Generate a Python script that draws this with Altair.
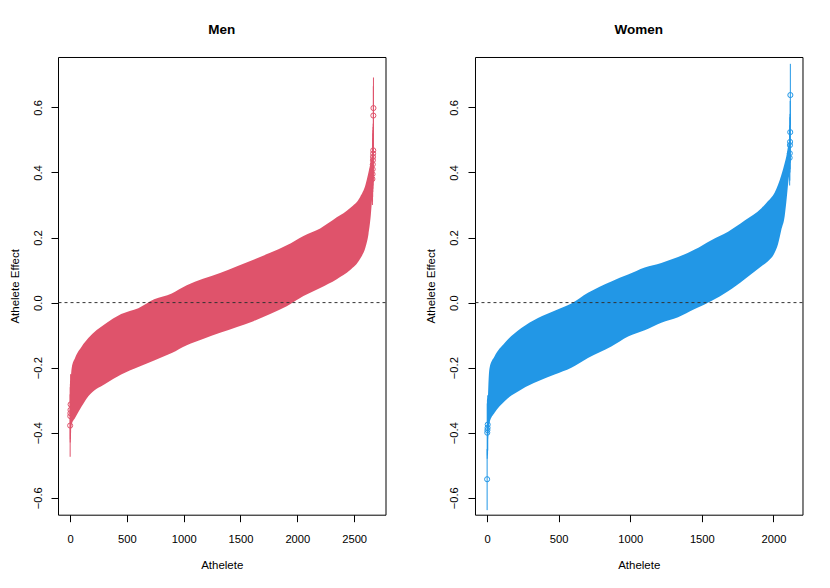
import altair as alt
import pandas as pd

FONT = "Liberation Sans"
MEN_COLOR = "#DF536B"
WOMEN_COLOR = "#2297E6"

# ---- Men: band of athlete intervals (rank, lower, upper)
men_rank = [6, 15, 44, 103, 161, 308, 450, 601, 740, 895, 1027, 1170, 1320, 1470,
            1614, 1761, 1907, 2054, 2201, 2347, 2465, 2553, 2600, 2626, 2647, 2660]
men_lo = [-0.40, -0.375, -0.355, -0.319, -0.288, -0.250, -0.221, -0.198, -0.178, -0.155,
          -0.131, -0.112, -0.093, -0.075, -0.057, -0.035, -0.011, 0.020, 0.045, 0.072,
          0.100, 0.135, 0.170, 0.210, 0.270, 0.330]
men_hi = [-0.24, -0.200, -0.170, -0.135, -0.109, -0.066, -0.035, -0.017, 0.010, 0.028,
          0.053, 0.073, 0.091, 0.112, 0.132, 0.153, 0.176, 0.205, 0.228, 0.262,
          0.291, 0.325, 0.362, 0.400, 0.435, 0.460]
# extreme athletes (visible individual estimates)
men_ext_rank = [1, 2, 3, 4, 5, 2661, 2662, 2663, 2664, 2665, 2666, 2667, 2668, 2669, 2670]
men_ext_est = [-0.378, -0.349, -0.340, -0.330, -0.313, 0.380, 0.395, 0.410, 0.425, 0.438,
               0.448, 0.458, 0.468, 0.575, 0.598]
men_ext_lo = [-0.474, -0.430, -0.420, -0.410, -0.400, 0.300, 0.310, 0.325, 0.340, 0.350,
              0.360, 0.370, 0.380, 0.480, 0.505]
men_ext_hi = [-0.282, -0.260, -0.250, -0.240, -0.220, 0.460, 0.475, 0.490, 0.505, 0.520,
              0.530, 0.540, 0.550, 0.665, 0.692]

# ---- Women
women_rank = [6, 12, 18, 53, 123, 240, 356, 472, 589, 705, 868, 985, 1101, 1217, 1334,
              1450, 1566, 1683, 1799, 1916, 1962, 2008, 2032, 2055, 2078, 2090, 2106, 2112]
women_lo = [-0.43, -0.39, -0.370, -0.339, -0.303, -0.267, -0.242, -0.221, -0.200, -0.170,
            -0.135, -0.104, -0.085, -0.062, -0.045, -0.020, 0.005, 0.035, 0.072, 0.112,
            0.127, 0.153, 0.180, 0.224, 0.265, 0.310, 0.380, 0.400]
women_hi = [-0.30, -0.23, -0.201, -0.165, -0.124, -0.078, -0.047, -0.025, -0.003, 0.030,
            0.065, 0.086, 0.108, 0.122, 0.140, 0.163, 0.192, 0.218, 0.252, 0.290,
            0.312, 0.338, 0.362, 0.392, 0.428, 0.450, 0.490, 0.500]
women_ext_rank = [1, 2, 3, 4, 5, 2113, 2114, 2115, 2116, 2117, 2118]
women_ext_est = [-0.543, -0.400, -0.392, -0.385, -0.375, 0.445, 0.459, 0.484, 0.494, 0.524, 0.638]
women_ext_lo = [-0.638, -0.480, -0.470, -0.465, -0.455, 0.360, 0.375, 0.400, 0.410, 0.430, 0.545]
women_ext_hi = [-0.450, -0.310, -0.300, -0.295, -0.285, 0.530, 0.545, 0.570, 0.580, 0.620, 0.734]

y_ticks = [-0.6, -0.4, -0.2, 0.0, 0.2, 0.4, 0.6]
y_domain = [-0.652, 0.755]
men_x_ticks = [0, 500, 1000, 1500, 2000, 2500]
women_x_ticks = [0, 500, 1000, 1500, 2000]
men_x_domain = [-105.8, 2776]
women_x_domain = [-83.7, 2202.7]


def panel(title, rank, lo, hi, erank, eest, elo, ehi, color, xdom, xticks):
    band = pd.DataFrame({"rank": rank, "lo": lo, "hi": hi})
    ext = pd.DataFrame({"rank": erank, "est": eest, "lo": elo, "hi": ehi})
    zero = pd.DataFrame({"y": [0.0]})

    xaxis = alt.Axis(values=xticks, format="d", tickSize=7, labelPadding=11.5,
                     labelFontSize=11.2, titleFontSize=11.5, titlePadding=15,
                     titleFontWeight="normal", domain=False, grid=False,
                     tickColor="#000", labelColor="#000", titleColor="#000",
                     labelFont=FONT, titleFont=FONT)
    yaxis = alt.Axis(values=y_ticks, format=".1f", tickSize=7, labelPadding=8,
                     labelAngle=270, labelAlign="center", labelBaseline="bottom",
                     labelFontSize=11.2, titleFontSize=11.5, titlePadding=12,
                     titleFontWeight="normal", domain=False, grid=False,
                     tickColor="#000", labelColor="#000", titleColor="#000",
                     labelFont=FONT, titleFont=FONT)
    xs = alt.Scale(domain=xdom, nice=False, zero=False)
    ys = alt.Scale(domain=y_domain, nice=False, zero=False)
    X = lambda f: alt.X(f, type="quantitative", scale=xs, axis=xaxis, title="Athelete")
    Y = lambda f: alt.Y(f, type="quantitative", scale=ys, axis=yaxis, title="Athelete Effect")

    area = alt.Chart(band).mark_area(color=color, opacity=1, interpolate="monotone").encode(
        x=X("rank"), y=Y("lo"), y2=alt.Y2("hi"))
    rules = alt.Chart(ext).mark_rule(color=color, strokeWidth=1).encode(
        x=X("rank"), y=Y("lo"), y2=alt.Y2("hi"))
    pts = alt.Chart(ext).mark_point(shape="circle", filled=False, color=color,
                                    size=26, strokeWidth=1, opacity=1).encode(
        x=X("rank"), y=Y("est"))
    zline = alt.Chart(zero).mark_rule(color="#333", strokeDash=[3, 3], strokeWidth=1).encode(
        y=Y("y"))
    return alt.layer(area, rules, pts, zline).properties(
        width=327.5, height=457.7,
        title=alt.TitleParams(title, fontSize=13.5, fontWeight="bold", font=FONT,
                              anchor="middle", frame="group", offset=9,
                              baseline="alphabetic", color="#000"))


men = panel("Men", men_rank, men_lo, men_hi, men_ext_rank, men_ext_est, men_ext_lo,
            men_ext_hi, MEN_COLOR, men_x_domain, men_x_ticks)
women = panel("Women", women_rank, women_lo, women_hi, women_ext_rank, women_ext_est,
              women_ext_lo, women_ext_hi, WOMEN_COLOR, women_x_domain, women_x_ticks)

chart = alt.hconcat(men, women, spacing=38).properties(
    padding={"left": 0, "top": 15, "right": 0, "bottom": 0}
).configure_view(stroke="#000", strokeWidth=1)

chart.save("out.html", embed_options={"renderer": "svg", "actions": False})
